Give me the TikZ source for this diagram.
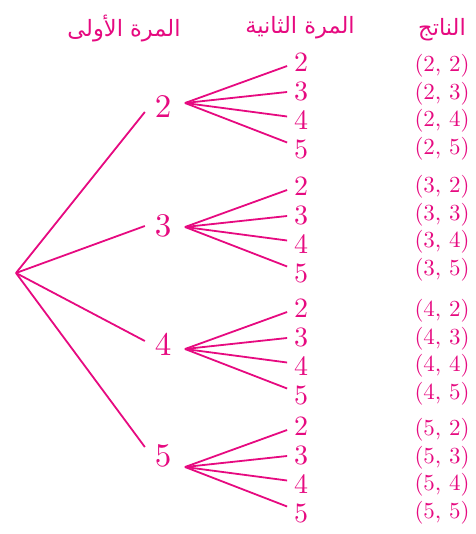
\documentclass[tikz,border=0pt]{standalone}
\usepackage{fontspec}
\usetikzlibrary{calc}
\newfontfamily\arabicfont[Script=Arabic]{DejaVu Sans}
\newfontfamily\lmten{lmroman10-regular}[Extension=.otf]
\TeXXeTstate=1
\definecolor{mag}{RGB}{230,10,128}
\begin{document}
\begin{tikzpicture}[x=1pt,y=-1pt,line width=1.8pt,draw=mag,
  every node/.style={inner sep=0pt,text=mag},
  head/.style={font=\arabicfont\fontsize{22.5}{27}\selectfont},
  first/.style={font=\lmten\fontsize{33}{40}\selectfont},
  second/.style={font=\lmten\fontsize{28}{34}\selectfont},
  outcome/.style={font=\lmten\fontsize{23}{27}\selectfont}]
\useasboundingbox (0,0) rectangle (475,534);
\node[head] (h1) at (124,29) {\beginR المرة الأولى\endR};
\node[head] (h2) at (300,28) {\beginR المرة الثانية\endR};
\node[head] (h3) at (442,30) {\beginR الناتج\endR};
\coordinate (root) at (16,273);
\foreach \n/\c/\dy/\F/\B [count=\i] in {2/107/5/103/66, 3/226/0/227/187, 4/344/-3/349/311, 5/456/-9/467/430} {
  \node[first] (a\i) at (163,\c) {\n};
  \draw (root) -- ($(a\i.west)+(-9,\dy)$);
  \coordinate (f\i) at (185,\F);
  \foreach \m/\off/\e/\o [count=\j] in {2/-40.5/3.5/0, 3/-11.5/0.5/27.5, 4/17.5/-4/55, 5/46/-6.5/82.5} {
    \node[second] (b\i\j) at (301,\F+\off) {\m};
    \draw (f\i) -- ($(b\i\j.west)+(-6,\e)$);
    \node[outcome] (c\i\j) at (442,\B+\o) {(\n, \m)};
  }
}
\end{tikzpicture}
\end{document}
